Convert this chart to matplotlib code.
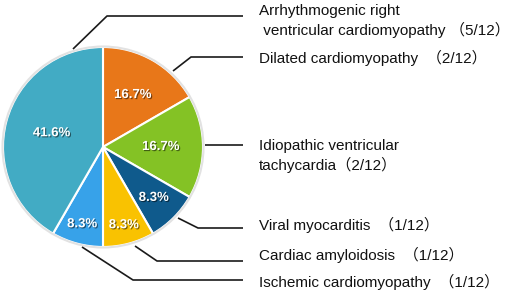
import matplotlib.pyplot as plt
import matplotlib.patheffects as pe
import numpy as np

# data (clockwise from 12 o'clock)
diseases = ['Dilated cardiomyopathy', 'Idiopathic ventricular\ntachycardia',
            'Viral myocarditis', 'Cardiac amyloidosis',
            'Ischemic cardiomyopathy', 'Arrhythmogenic right\n ventricular cardiomyopathy']
cases = [2, 2, 1, 1, 1, 5]
total = 12
pct_labels = ['16.7%', '16.7%', '8.3%', '8.3%', '8.3%', '41.6%']
colors = ['#E87719', '#84C225', '#0F5A8C', '#F9C201', '#37A2E9', '#42ABC4']

W, H = 510, 292
cx, cy, r = 103, 147, 100          # pie centre / radius in pixels (y from top)
pct_dist = [0.6, 0.58, 0.72, 0.81, 0.8, 0.53]
# leader lines: start, elbow (pixels, y from top), end at x=243
leaders = [[(173, 71), (191, 57)], [(205, 145), (205, 145)],
           [(178, 218), (198, 228)], [(135, 246), (157, 261)],
           [(82, 247), (133, 280)], [(73, 49), (107, 16)]]
text_y = [58, 156, 225, 255, 282, 21]
gaps = ['  ', '', '  ', '  ', '  ', ' ']

fig = plt.figure(figsize=(W / 100, H / 100), dpi=100)
ax = fig.add_axes([0, 0, 1, 1])

wedges, _ = ax.pie(cases, colors=colors, startangle=90, counterclock=False,
                   center=(cx, H - cy), radius=r,
                   wedgeprops=dict(edgecolor='white', linewidth=1.5))
ax.add_patch(plt.Circle((cx, H - cy), r + 0.5, fill=False, edgecolor='#e2e2e2', lw=1.5))

shadow = [pe.withSimplePatchShadow(offset=(0.8, -0.8), shadow_rgbFace='black', alpha=0.5)]
for w, lab, d in zip(wedges, pct_labels, pct_dist):
    ang = np.deg2rad((w.theta1 + w.theta2) / 2)
    ax.text(cx + d * r * np.cos(ang), H - cy + d * r * np.sin(ang), lab,
            ha='center', va='center', color='white', fontsize=9.5,
            fontweight='bold', family='Liberation Sans', path_effects=shadow)

for name, n, (p0, p1), ty, gap in zip(diseases, cases, leaders, text_y, gaps):
    xs = [p0[0], p1[0], 243]
    ys = [H - p0[1], H - p1[1], H - p1[1]]
    ax.plot(xs, ys, color='#1a1a1a', lw=1.2, solid_capstyle='butt')
    ax.text(259, H - ty, f'{name}{gap}（{n}/{total}）', ha='left', va='center',
            fontsize=11, family=['Liberation Sans', 'Noto Sans CJK SC'],
            linespacing=1.35, color='#111111')

ax.set_xlim(0, W)
ax.set_ylim(0, H)
ax.axis('off')
fig.savefig('out.png', dpi=100)
